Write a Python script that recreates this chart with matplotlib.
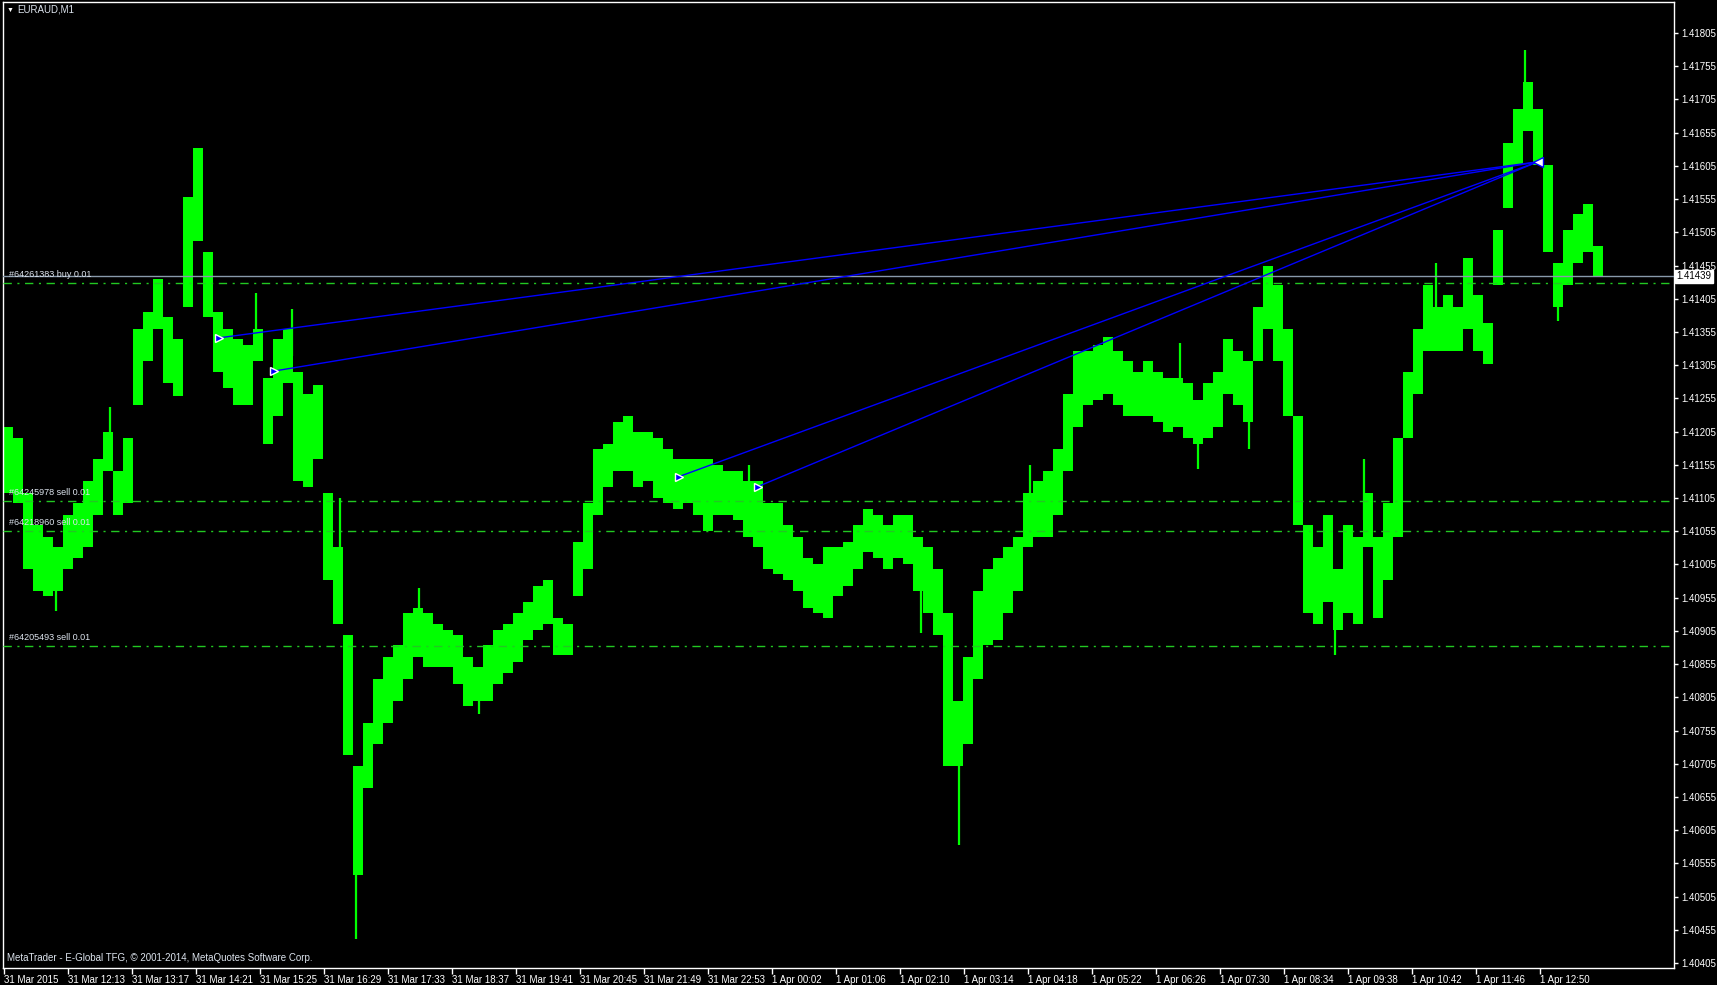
import matplotlib
matplotlib.use("Agg")
import matplotlib.pyplot as plt
import numpy as np

plt.rcParams["font.family"] = ["Liberation Sans", "DejaVu Sans"]

symbol = "EURAUD,M1"
copyright_text = "MetaTrader - E-Global TFG, \u00a9 2001-2014, MetaQuotes Software Corp."

# price swings, one high/low pair per 10 one-minute bars
bar_step = 10
highs = [
    1.41212, 1.41196, 1.41113, 1.41064, 1.41047, 1.41031, 1.41080, 1.41097, 1.41130, 1.41163,
    1.41204, 1.41146, 1.41196, 1.41360, 1.41385, 1.41434, 1.41377, 1.41344, 1.41558, 1.41632,
    1.41476, 1.41385, 1.41360, 1.41344, 1.41336, 1.41360, 1.41286, 1.41344, 1.41360, 1.41294,
    1.41261, 1.41275, 1.41113, 1.41031, 1.40899, 1.40701, 1.40767, 1.40833, 1.40866, 1.40883,
    1.40932, 1.40940, 1.40932, 1.40916, 1.40907, 1.40899, 1.40866, 1.40850, 1.40883, 1.40907,
    1.40916, 1.40932, 1.40949, 1.40973, 1.40981, 1.40924, 1.40916, 1.41039, 1.41097, 1.41179,
    1.41187, 1.41220, 1.41229, 1.41204, 1.41204, 1.41196, 1.41179, 1.41163, 1.41163, 1.41163,
    1.41163, 1.41154, 1.41146, 1.41146, 1.41130, 1.41130, 1.41097, 1.41097, 1.41064, 1.41047,
    1.41014, 1.41006, 1.41031, 1.41031, 1.41039, 1.41064, 1.41089, 1.41080, 1.41064, 1.41080,
    1.41080, 1.41047, 1.41031, 1.40998, 1.40932, 1.40800, 1.40866, 1.40965, 1.40998, 1.41014,
    1.41031, 1.41047, 1.41113, 1.41130, 1.41146, 1.41179, 1.41261, 1.41327, 1.41327, 1.41336,
    1.41347, 1.41327, 1.41311, 1.41294, 1.41311, 1.41294, 1.41286, 1.41286, 1.41278, 1.41253,
    1.41278, 1.41294, 1.41344, 1.41327, 1.41311, 1.41393, 1.41454, 1.41426, 1.41360, 1.41229,
    1.41064, 1.41031, 1.41080, 1.40998, 1.41064, 1.41047, 1.41113, 1.41047, 1.41097, 1.41196,
    1.41294, 1.41360, 1.41426, 1.41393, 1.41410, 1.41393, 1.41467, 1.41410, 1.41369, 1.41509,
    1.41640, 1.41690, 1.41731, 1.41690, 1.41607, 1.41459, 1.41509, 1.41533, 1.41548, 1.41484,
]
lows = [
    1.41113, 1.41097, 1.40998, 1.40965, 1.40957, 1.40965, 1.40998, 1.41014, 1.41031, 1.41080,
    1.41146, 1.41080, 1.41097, 1.41245, 1.41311, 1.41360, 1.41278, 1.41258, 1.41393, 1.41492,
    1.41377, 1.41294, 1.41270, 1.41245, 1.41245, 1.41311, 1.41187, 1.41229, 1.41278, 1.41130,
    1.41121, 1.41163, 1.40981, 1.40916, 1.40718, 1.40537, 1.40669, 1.40734, 1.40767, 1.40800,
    1.40833, 1.40866, 1.40850, 1.40850, 1.40850, 1.40825, 1.40792, 1.40800, 1.40800, 1.40825,
    1.40841, 1.40858, 1.40891, 1.40907, 1.40916, 1.40869, 1.40869, 1.40957, 1.40998, 1.41080,
    1.41121, 1.41146, 1.41146, 1.41121, 1.41130, 1.41105, 1.41097, 1.41088, 1.41097, 1.41080,
    1.41056, 1.41080, 1.41080, 1.41072, 1.41047, 1.41031, 1.40998, 1.40990, 1.40981, 1.40965,
    1.40940, 1.40932, 1.40924, 1.40957, 1.40973, 1.40998, 1.41023, 1.41014, 1.40998, 1.41014,
    1.41006, 1.40965, 1.40932, 1.40899, 1.40701, 1.40701, 1.40734, 1.40833, 1.40883, 1.40891,
    1.40932, 1.40965, 1.41031, 1.41047, 1.41047, 1.41080, 1.41146, 1.41212, 1.41245, 1.41253,
    1.41261, 1.41245, 1.41229, 1.41229, 1.41229, 1.41220, 1.41204, 1.41212, 1.41196, 1.41187,
    1.41196, 1.41212, 1.41261, 1.41245, 1.41220, 1.41311, 1.41360, 1.41311, 1.41229, 1.41064,
    1.40932, 1.40916, 1.40949, 1.40907, 1.40932, 1.40916, 1.41031, 1.40924, 1.40981, 1.41047,
    1.41196, 1.41261, 1.41327, 1.41327, 1.41327, 1.41327, 1.41360, 1.41327, 1.41306, 1.41426,
    1.41541, 1.41607, 1.41657, 1.41607, 1.41476, 1.41393, 1.41426, 1.41459, 1.41476, 1.41438,
]

# single-minute spikes that poke out of the range above
wick_bars = [52, 106, 252, 288, 336, 352, 415, 475, 745, 917,
             955, 1026, 1176, 1194, 1245, 1331, 1360, 1432, 1521, 1554]
wick_prices = [1.40935, 1.41242, 1.41413, 1.41390, 1.41105, 1.40441, 1.40970, 1.40780, 1.41154, 1.40902,
               1.40583, 1.41154, 1.41339, 1.41149, 1.41179, 1.40869, 1.41163, 1.41459, 1.41780, 1.41372]

bid = 1.41439

order_labels = ["#64261383 buy 0.01", "#64245978 sell 0.01",
                "#64218960 sell 0.01", "#64205493 sell 0.01"]
order_prices = [1.41429, 1.41100, 1.41055, 1.40882]

# closed trades: open bar / open price -> close bar / close price
trade_open_bars = [215, 270, 675, 754]
trade_open_prices = [1.41346, 1.41296, 1.41137, 1.41122]
trade_close_bar = 1534
trade_close_price = 1.41611

time_labels = [
    "31 Mar 2015", "31 Mar 12:13", "31 Mar 13:17", "31 Mar 14:21", "31 Mar 15:25",
    "31 Mar 16:29", "31 Mar 17:33", "31 Mar 18:37", "31 Mar 19:41", "31 Mar 20:45",
    "31 Mar 21:49", "31 Mar 22:53", "1 Apr 00:02", "1 Apr 01:06", "1 Apr 02:10",
    "1 Apr 03:14", "1 Apr 04:18", "1 Apr 05:22", "1 Apr 06:26", "1 Apr 07:30",
    "1 Apr 08:34", "1 Apr 09:38", "1 Apr 10:42", "1 Apr 11:46", "1 Apr 12:50",
]
bars_per_label = 64
price_ticks = np.arange(1.40405, 1.41806, 0.0005)

W, H = 1717, 985
fig = plt.figure(figsize=(W / 100, H / 100), dpi=100)
fig.set_facecolor("black")
ax = fig.add_axes([3 / W, (H - 968) / H, (1674 - 3) / W, (968 - 2) / H])
ax.set_facecolor("black")
for sp in ax.spines.values():
    sp.set_color("white")
    sp.set_linewidth(1)

ax.set_xlim(-0.5, 1670.5)
ax.set_ylim(1.403975, 1.418517)

# price bars
x = np.arange(len(highs)) * bar_step + bar_step / 2 - 0.5
hi = np.array(highs)
lo = np.array(lows)
ax.bar(x, hi - lo, bottom=lo, width=bar_step, color="#00ff00", linewidth=0, zorder=2)

seg = np.array(wick_bars) // bar_step
mid = (hi[seg] + lo[seg]) / 2
ax.vlines(wick_bars, mid, wick_prices, color="#00ff00", lw=1.6, zorder=2)

# order levels
for lab, p in zip(order_labels, order_prices):
    ax.axhline(p, color="#22c822", lw=1, ls=(0, (6, 4, 1.5, 4)), zorder=3)
    ax.text(5, p + 0.00006, lab, color="#dde4ee", fontsize=6.5, va="bottom", ha="left", zorder=5)

# bid line
ax.axhline(bid, color="#8899aa", lw=1, zorder=3)
ax.text(1.0015, bid, f"{bid:.5f}", transform=ax.get_yaxis_transform(), color="black",
        fontsize=7, va="center", ha="left", zorder=6,
        bbox=dict(boxstyle="square,pad=0.15", fc="white", ec="white"), clip_on=False)

# trade history
for b, p in zip(trade_open_bars, trade_open_prices):
    ax.plot([b, trade_close_bar], [p, trade_close_price], color="#0000ff", lw=1, zorder=4)
ax.plot(trade_open_bars, trade_open_prices, ls="none", marker=">", ms=6,
        mfc="#0000ff", mec="white", mew=1, zorder=5)
ax.plot([trade_close_bar], [trade_close_price], ls="none", marker="<", ms=7,
        mfc="white", mec="#0000ff", mew=1, zorder=5)

# axes ticks
ax.yaxis.tick_right()
ax.set_yticks(price_ticks)
ax.set_yticklabels([f"{v:.5f}" for v in price_ticks])
ax.tick_params(axis="y", colors="white", length=3, width=1, pad=2, labelsize=7)
ax.set_xticks(np.arange(len(time_labels)) * bars_per_label)
ax.set_xticklabels(time_labels, ha="left")
ax.tick_params(axis="x", colors="white", length=4, width=1, pad=1, labelsize=7)

# header and footer
fig.text(10 / W, 1 - 10 / H, "\u25bc", color="white", fontsize=5, ha="center", va="center")
fig.text(17 / W, 1 - 10 / H, symbol, color="#dde4ee", fontsize=7, ha="left", va="center")
fig.text(7 / W, 1 - 958 / H, copyright_text, color="#dde4ee", fontsize=7, ha="left", va="center")

fig.savefig("out.png", dpi=100, facecolor="black")
